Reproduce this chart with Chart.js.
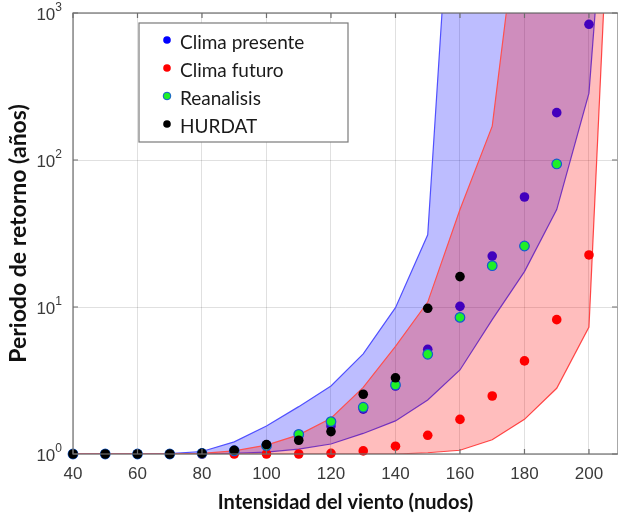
<!DOCTYPE html>
<html>
<head>
<meta charset="utf-8">
<script src="https://cdn.jsdelivr.net/npm/chart.js@4.4.0/dist/chart.umd.min.js"></script>
<style>
    html, body { margin: 0; padding: 0; background: #fff; overflow: hidden; }
    canvas { display: block; }
</style>
</head>
<body>
<canvas id="chart" width="618" height="515"></canvas>
<script>
// Wind speeds (knots) of the point series
const speeds = [40, 50, 60, 70, 80, 90, 100, 110, 120, 130, 140, 150, 160, 170, 180, 190, 200];

// Return period (years)
const climaPresente = [1.0, 1.0, 1.0, 1.0, 1.01, 1.06, 1.15, 1.33, 1.55, 2.02, 2.9, 5.15, 10.1, 22.2, 56, 210, 838];
const climaFuturo = [1.0, 1.0, 1.0, 1.0, 1.0, 1.0, 1.0, 1.0, 1.01, 1.05, 1.13, 1.34, 1.72, 2.48, 4.3, 8.2, 22.6];
const reanalisis = [1.0, 1.0, 1.0, 1.0, 1.01, 1.05, 1.14, 1.36, 1.66, 2.08, 2.95, 4.77, 8.5, 19.1, 26, 94];
const hurdat = [1.0, 1.0, 1.0, 1.0, 1.01, 1.06, 1.16, 1.24, 1.42, 2.55, 3.3, 9.8, 16.1];

// Uncertainty bands (upper edges run off the top of the plot)
const bandSpeeds = [40, 50, 60, 70, 80, 90, 100, 110, 120, 130, 140, 150, 160, 170, 180, 190, 200, 210];
const presenteAlto = [1.0, 1.0, 1.0, 1.005, 1.04, 1.21, 1.55, 2.1, 2.9, 4.8, 9.9, 31, 8e4, 1e7, 1e8, 1e9, 1e10, 1e11];
const presenteBajo = [1.0, 1.0, 1.0, 1.0, 1.0, 1.01, 1.03, 1.08, 1.17, 1.38, 1.68, 2.33, 3.73, 8.2, 17.4, 46, 285, 2.1e5];
const futuroAlto = [1.0, 1.0, 1.0, 1.0, 1.01, 1.05, 1.15, 1.35, 1.75, 2.84, 5.4, 10.8, 46, 170, 1e4, 1e6, 1e8, 1e10];
const futuroBajo = [1.0, 1.0, 1.0, 1.0, 1.0, 1.0, 1.0, 1.0, 1.0, 1.0, 1.0, 1.02, 1.06, 1.25, 1.72, 2.8, 7.3, 4e5];

// Axis ticks
const xTicks = [40, 60, 80, 100, 120, 140, 160, 180, 200];
const yTicks = [1, 10, 100, 1000];
const yTickExponents = ['0', '1', '2', '3'];

function toPoints(xs, ys) {
    return ys.map((y, i) => ({ x: xs[i], y: y }));
}

// Band edge line
function bandLine(values, color, order, fill, fillColor) {
    return {
        data: toPoints(bandSpeeds, values),
        showLine: true,
        borderColor: color,
        borderWidth: 1.2,
        pointRadius: 0,
        fill: fill,
        backgroundColor: fillColor,
        order: order
    };
}

// Marker series
function markers(label, values, color, edge, order) {
    return {
        label: label,
        data: toPoints(speeds, values),
        showLine: false,
        pointRadius: 4.8,
        pointBackgroundColor: color,
        pointBorderColor: edge || color,
        pointBorderWidth: edge ? 1.2 : 0,
        clip: false,
        order: order
    };
}

// Draws the box frame, inward ticks and the superscript y labels
const framePlugin = {
    id: 'frame',
    afterDraw(chart) {
        const { ctx, chartArea: a, scales } = chart;
        ctx.save();
        ctx.strokeStyle = '#6e6e6e';
        ctx.lineWidth = 1.2;
        ctx.strokeRect(a.left, a.top, a.right - a.left, a.bottom - a.top);
        ctx.beginPath();
        xTicks.forEach(v => {
            const x = scales.x.getPixelForValue(v);
            ctx.moveTo(x, a.bottom); ctx.lineTo(x, a.bottom - 5);
            ctx.moveTo(x, a.top); ctx.lineTo(x, a.top + 5);
        });
        yTicks.forEach(v => {
            const y = scales.y.getPixelForValue(v);
            ctx.moveTo(a.left, y); ctx.lineTo(a.left + 5, y);
            ctx.moveTo(a.right - 1, y); ctx.lineTo(a.right - 6, y);
        });
        ctx.stroke();

        ctx.fillStyle = '#3a3a3a';
        ctx.textBaseline = 'middle';
        yTicks.forEach((v, i) => {
            const y = scales.y.getPixelForValue(v);
            ctx.font = '12px "Liberation Sans"';
            ctx.textAlign = 'right';
            const expW = ctx.measureText(yTickExponents[i]).width;
            ctx.fillText(yTickExponents[i], a.left - 11, y - 5);
            ctx.font = '17px "Liberation Sans"';
            ctx.fillText('10', a.left - 11 - expW, y + 2);
        });
        ctx.restore();
    }
};

// Legend box inside the plot
const legendPlugin = {
    id: 'boxLegend',
    afterDraw(chart) {
        const { ctx } = chart;
        const items = chart.data.datasets.filter(d => d.label);
        const left = 139, top = 23, w = 209, h = 119;
        ctx.save();
        ctx.fillStyle = '#fff';
        ctx.fillRect(left, top, w, h);
        ctx.strokeStyle = '#7a7a7a';
        ctx.lineWidth = 1.2;
        ctx.strokeRect(left, top, w, h);
        ctx.font = '19px Lato';
        ctx.textBaseline = 'middle';
        items.forEach((d, i) => {
            const y = top + 20 + i * 28;
            ctx.beginPath();
            ctx.arc(left + 28, y - 3, 3.8, 0, Math.PI * 2);
            ctx.fillStyle = d.pointBackgroundColor;
            ctx.fill();
            if (d.pointBorderWidth) {
                ctx.strokeStyle = d.pointBorderColor;
                ctx.lineWidth = 1;
                ctx.stroke();
            }
            ctx.fillStyle = '#1a1a1a';
            ctx.fillText(d.label, left + 41, y);
        });
        ctx.restore();
    }
};

const blueFill = 'rgba(0, 0, 255, 0.26)';
const redFill = 'rgba(255, 0, 0, 0.26)';

new Chart(document.getElementById('chart'), {
    type: 'scatter',
    data: {
        datasets: [
            bandLine(presenteBajo, 'rgb(80, 80, 255)', 9, false),
            bandLine(presenteAlto, 'rgb(80, 80, 255)', 8, { target: 0 }, blueFill),
            markers('Clima presente', climaPresente, 'rgb(0, 0, 255)', null, 7),
            bandLine(futuroBajo, 'rgb(255, 80, 80)', 6, false),
            bandLine(futuroAlto, 'rgb(255, 80, 80)', 5, { target: 3 }, redFill),
            markers('Clima futuro', climaFuturo, 'rgb(255, 0, 0)', null, 4),
            markers('Reanalisis', reanalisis, 'rgb(30, 240, 40)', 'rgb(20, 90, 210)', 3),
            markers('HURDAT', hurdat, 'rgb(0, 0, 0)', null, 2)
        ]
    },
    options: {
        responsive: false,
        animation: false,
        layout: { autoPadding: false, padding: { top: 13, right: 0, left: 0, bottom: 0 } },
        plugins: {
            legend: { display: false },
            tooltip: { enabled: false }
        },
        scales: {
            x: {
                type: 'linear',
                min: 40,
                max: 209,
                z: 1,
                afterBuildTicks: scale => { scale.ticks = xTicks.map(v => ({ value: v })); },
                afterFit: scale => {
                    scale.height = 61;
                    scale.paddingLeft = 0;
                    scale.paddingRight = 0;
                },
                grid: { color: 'rgba(0, 0, 0, 0.12)', drawTicks: false },
                border: { display: false },
                ticks: {
                    padding: 10,
                    color: '#3a3a3a',
                    font: { family: 'Liberation Sans', size: 17 }
                },
                title: {
                    display: true,
                    text: 'Intensidad del viento (nudos)',
                    color: '#111',
                    font: { family: 'Lato', size: 20, weight: 'bold' },
                    padding: { top: 3, bottom: 0 }
                }
            },
            y: {
                type: 'logarithmic',
                min: 1,
                max: 1000,
                z: 1,
                afterBuildTicks: scale => { scale.ticks = yTicks.map(v => ({ value: v })); },
                afterFit: scale => { scale.width = 73; },
                grid: { color: 'rgba(0, 0, 0, 0.12)', drawTicks: false },
                border: { display: false },
                ticks: { display: false },
                title: {
                    display: true,
                    text: 'Periodo de retorno (años)',
                    color: '#111',
                    font: { family: 'Lato', size: 23, weight: 'bold' },
                    padding: { top: 5, bottom: 0 }
                }
            }
        }
    },
    plugins: [framePlugin, legendPlugin]
});
</script>
</body>
</html>
